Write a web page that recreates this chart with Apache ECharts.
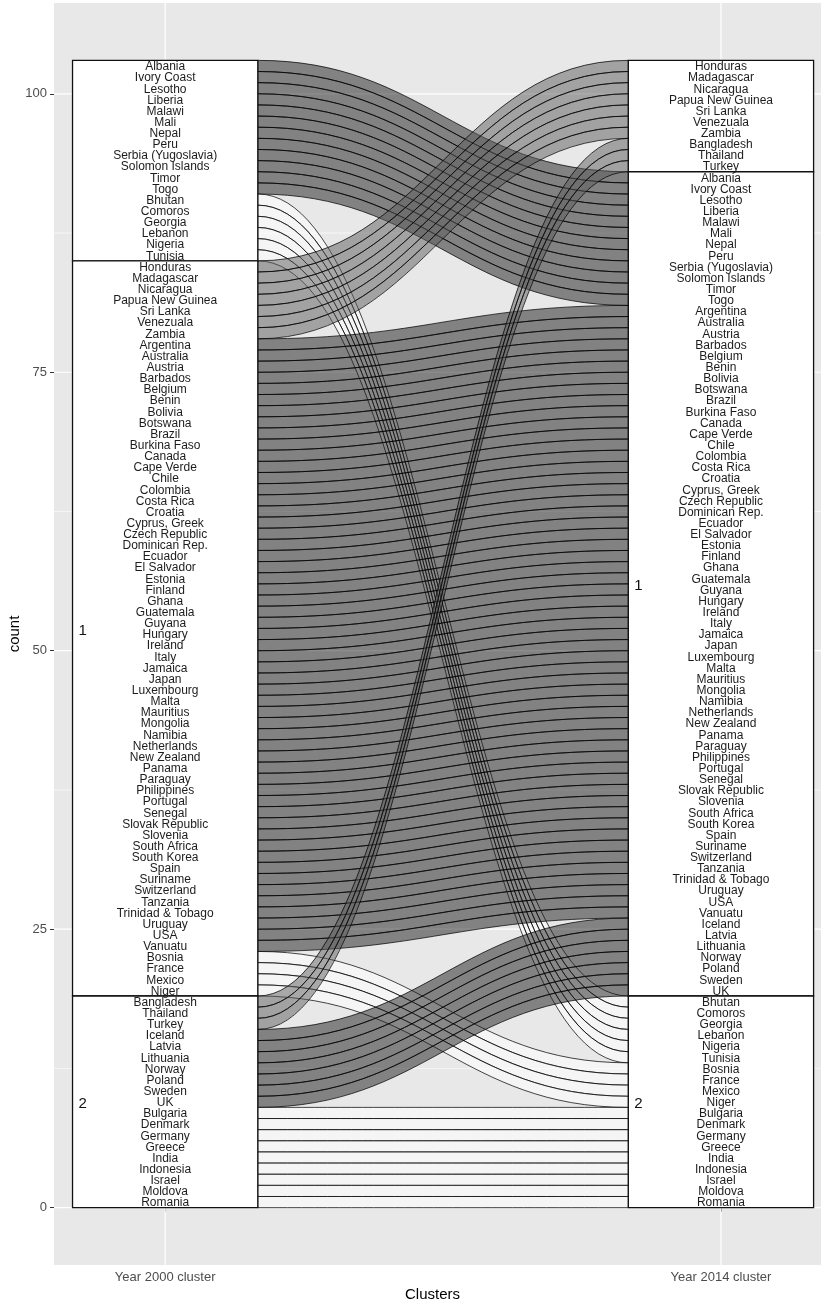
<!DOCTYPE html>
<html>
<head>
<meta charset="utf-8">
<script src="https://cdn.jsdelivr.net/npm/echarts@6/dist/echarts.min.js"></script>
<style>
  html, body { margin: 0; padding: 0; background: #ffffff; }
  #chart { width: 821px; height: 1304px; }
</style>
</head>
<body>
<div id="chart"></div>
<script>
// Axis categories (the two survey years) and stratum order from top to bottom
const axisNames = ['Year 2000 cluster', 'Year 2014 cluster'];
const stratumOrder = [3, 1, 2];
const stratumCaption = { 3: '', 1: '1', 2: '2' };

// Countries with their cluster in 2000 and in 2014
const countries = [
  'Albania', 'Ivory Coast', 'Lesotho', 'Liberia', 'Malawi', 'Mali', 'Nepal', 'Peru',
  'Serbia (Yugoslavia)', 'Solomon Islands', 'Timor', 'Togo',
  'Bhutan', 'Comoros', 'Georgia', 'Lebanon', 'Nigeria', 'Tunisia',
  'Honduras', 'Madagascar', 'Nicaragua', 'Papua New Guinea', 'Sri Lanka', 'Venezuala', 'Zambia',
  'Argentina', 'Australia', 'Austria', 'Barbados', 'Belgium', 'Benin', 'Bolivia', 'Botswana',
  'Brazil', 'Burkina Faso', 'Canada', 'Cape Verde', 'Chile', 'Colombia', 'Costa Rica', 'Croatia',
  'Cyprus, Greek', 'Czech Republic', 'Dominican Rep.', 'Ecuador', 'El Salvador', 'Estonia',
  'Finland', 'Ghana', 'Guatemala', 'Guyana', 'Hungary', 'Ireland', 'Italy', 'Jamaica', 'Japan',
  'Luxembourg', 'Malta', 'Mauritius', 'Mongolia', 'Namibia', 'Netherlands', 'New Zealand',
  'Panama', 'Paraguay', 'Philippines', 'Portugal', 'Senegal', 'Slovak Republic', 'Slovenia',
  'South Africa', 'South Korea', 'Spain', 'Suriname', 'Switzerland', 'Tanzania',
  'Trinidad & Tobago', 'Uruguay', 'USA', 'Vanuatu',
  'Bosnia', 'France', 'Mexico', 'Niger',
  'Bangladesh', 'Thailand', 'Turkey',
  'Iceland', 'Latvia', 'Lithuania', 'Norway', 'Poland', 'Sweden', 'UK',
  'Bulgaria', 'Denmark', 'Germany', 'Greece', 'India', 'Indonesia', 'Israel', 'Moldova', 'Romania'
];

const cluster2000 = [
  3, 3, 3, 3, 3, 3, 3, 3, 3, 3, 3, 3,
  3, 3, 3, 3, 3, 3,
  1, 1, 1, 1, 1, 1, 1,
  1, 1, 1, 1, 1, 1, 1, 1, 1, 1, 1,
  1, 1, 1, 1, 1, 1, 1, 1, 1, 1, 1,
  1, 1, 1, 1, 1, 1, 1, 1, 1, 1, 1,
  1, 1, 1, 1, 1, 1, 1, 1, 1, 1, 1,
  1, 1, 1, 1, 1, 1, 1, 1, 1, 1, 1,
  1, 1, 1, 1,
  2, 2, 2,
  2, 2, 2, 2, 2, 2, 2,
  2, 2, 2, 2, 2, 2, 2, 2, 2
];

const cluster2014 = [
  1, 1, 1, 1, 1, 1, 1, 1, 1, 1, 1, 1,
  2, 2, 2, 2, 2, 2,
  3, 3, 3, 3, 3, 3, 3,
  1, 1, 1, 1, 1, 1, 1, 1, 1, 1, 1,
  1, 1, 1, 1, 1, 1, 1, 1, 1, 1, 1,
  1, 1, 1, 1, 1, 1, 1, 1, 1, 1, 1,
  1, 1, 1, 1, 1, 1, 1, 1, 1, 1, 1,
  1, 1, 1, 1, 1, 1, 1, 1, 1, 1, 1,
  2, 2, 2, 2,
  3, 3, 3,
  1, 1, 1, 1, 1, 1, 1,
  2, 2, 2, 2, 2, 2, 2, 2, 2
];

// Count axis ticks and minor grid positions
const yTicks = [0, 25, 50, 75, 100];
const yMinor = [12.5, 37.5, 62.5, 87.5];

// ---------------------------------------------------------------------------
const FONT = '"Liberation Sans", Arial, Helvetica, sans-serif';
const HALF = 1 / 6;            // half the stratum width in axis units
const N = countries.length;
const rank = c => stratumOrder.indexOf(c);

// Stack each country inside its stratum: ordered by the cluster on the other axis
function stack(own, other) {
  const pos = new Array(N);
  const strata = [];
  let top = N;
  stratumOrder.forEach(k => {
    const members = countries.map((_, i) => i)
      .filter(i => own[i] === k)
      .sort((a, b) => (rank(other[a]) - rank(other[b])) || (a - b));
    const sTop = top;
    members.forEach(i => { pos[i] = [top - 1, top]; top -= 1; });
    strata.push({ cluster: k, bottom: top, top: sTop });
  });
  return { pos, strata };
}

const sides = [stack(cluster2000, cluster2014), stack(cluster2014, cluster2000)];

const flowFill = {
  3: 'rgba(92,92,92,0.5)',
  1: 'rgba(28,28,28,0.5)',
  2: 'rgba(255,255,255,0.55)'
};

// Ribbon data: [left bottom, left top, right bottom, right top, cluster 2014]
const flowData = countries.map((_, i) => [
  sides[0].pos[i][0], sides[0].pos[i][1],
  sides[1].pos[i][0], sides[1].pos[i][1],
  cluster2014[i]
]);

// Stratum boxes: [axis position, bottom, top, cluster]
const strataData = [];
sides.forEach((s, j) => s.strata.forEach(st => strataData.push([j + 1, st.bottom, st.top, st.cluster])));

// Country labels: [axis position, slot centre, index]
const labelData = [];
sides.forEach((s, j) => countries.forEach((_, i) => labelData.push([j + 1, (s.pos[i][0] + s.pos[i][1]) / 2, i])));

// Panel grid lines: [orientation (0 horizontal, 1 vertical), value, width]
const gridData = [];
yMinor.forEach(v => gridData.push([0, v, 0.6]));
yTicks.forEach(v => gridData.push([0, v, 1.2]));
[1, 2].forEach(v => gridData.push([1, v, 1.2]));

function renderGrid(params, api) {
  const cs = params.coordSys;
  const o = api.value(0), v = api.value(1), w = api.value(2);
  let shape;
  if (o === 0) {
    const y = api.coord([1, v])[1];
    shape = { x1: cs.x, y1: y, x2: cs.x + cs.width, y2: y };
  } else {
    const x = api.coord([v, 0])[0];
    shape = { x1: x, y1: cs.y, x2: x, y2: cs.y + cs.height };
  }
  return { type: 'line', shape, style: { stroke: '#ffffff', lineWidth: w } };
}

function renderFlow(params, api) {
  const lb = api.value(0), lt = api.value(1), rb = api.value(2), rt = api.value(3);
  const x0 = 1 + HALF, x1 = 2 - HALF;
  const a = api.coord([x0, lt]), b = api.coord([x1, rt]);
  const c = api.coord([x1, rb]), d = api.coord([x0, lb]);
  const k = (b[0] - a[0]) * 0.45;
  const p = [
    'M', a[0], a[1],
    'C', a[0] + k, a[1], b[0] - k, b[1], b[0], b[1],
    'L', c[0], c[1],
    'C', c[0] - k, c[1], d[0] + k, d[1], d[0], d[1],
    'Z'
  ].join(' ');
  return {
    type: 'path',
    shape: { pathData: p },
    style: { fill: flowFill[api.value(4)], stroke: 'rgba(0,0,0,0.72)', lineWidth: 1 }
  };
}

function renderStratum(params, api) {
  const x = api.value(0), lo = api.value(1), hi = api.value(2), cl = api.value(3);
  const tl = api.coord([x - HALF, hi]);
  const br = api.coord([x + HALF, lo]);
  const mid = api.coord([x - HALF, (lo + hi) / 2]);
  return {
    type: 'group',
    children: [
      {
        type: 'rect',
        shape: { x: tl[0], y: tl[1], width: br[0] - tl[0], height: br[1] - tl[1] },
        style: { fill: '#ffffff', stroke: '#111111', lineWidth: 1.3 }
      },
      {
        type: 'text',
        style: {
          text: stratumCaption[cl], x: mid[0] + 6, y: mid[1] + 2,
          align: 'left', verticalAlign: 'middle',
          font: '15px ' + FONT, fill: '#111111'
        }
      }
    ]
  };
}

function renderLabel(params, api) {
  const pt = api.coord([api.value(0), api.value(1)]);
  return {
    type: 'text',
    style: {
      text: countries[api.value(2)], x: pt[0], y: pt[1] + 1,
      align: 'center', verticalAlign: 'middle',
      font: '12px ' + FONT, fill: '#1c1c1c'
    }
  };
}

const chart = echarts.init(document.getElementById('chart'), null, { renderer: 'canvas' });
chart.setOption({
  animation: false,
  backgroundColor: '#ffffff',
  grid: {
    show: true, left: 54, top: 3, width: 767, height: 1262,
    outerBoundsMode: 'none', containLabel: false,
    backgroundColor: '#e8e8e8', borderWidth: 0
  },
  xAxis: {
    type: 'value', min: 0.8, max: 2.18,
    axisLine: { show: false },
    splitLine: { show: false },
    axisTick: { show: true, customValues: [1, 2], length: 4, lineStyle: { color: '#333333', width: 1 } },
    axisLabel: {
      customValues: [1, 2], margin: 6,
      formatter: v => axisNames[Math.round(v) - 1],
      color: '#4d4d4d', fontSize: 13, fontFamily: FONT
    },
    name: 'Clusters', nameLocation: 'middle', nameGap: 22, nameMoveOverlap: false,
    nameTextStyle: { color: '#000000', fontSize: 15, fontFamily: FONT, padding: [0, 10, 0, 0] }
  },
  yAxis: {
    type: 'value', min: -5.15, max: 108.15,
    axisLine: { show: false },
    splitLine: { show: false },
    axisTick: { show: true, customValues: yTicks, length: 4, lineStyle: { color: '#333333', width: 1 } },
    axisLabel: {
      customValues: yTicks, margin: 7,
      color: '#4d4d4d', fontSize: 13, fontFamily: FONT
    },
    name: 'count', nameLocation: 'middle', nameGap: 32, nameRotate: 90, nameMoveOverlap: false,
    nameTextStyle: { color: '#000000', fontSize: 15, fontFamily: FONT }
  },
  series: [
    { type: 'custom', z: 1, silent: true, renderItem: renderGrid, data: gridData, clip: true },
    { type: 'custom', z: 2, silent: true, renderItem: renderFlow, data: flowData },
    { type: 'custom', z: 3, silent: true, renderItem: renderStratum, data: strataData },
    { type: 'custom', z: 4, silent: true, renderItem: renderLabel, data: labelData }
  ]
});
</script>
</body>
</html>
